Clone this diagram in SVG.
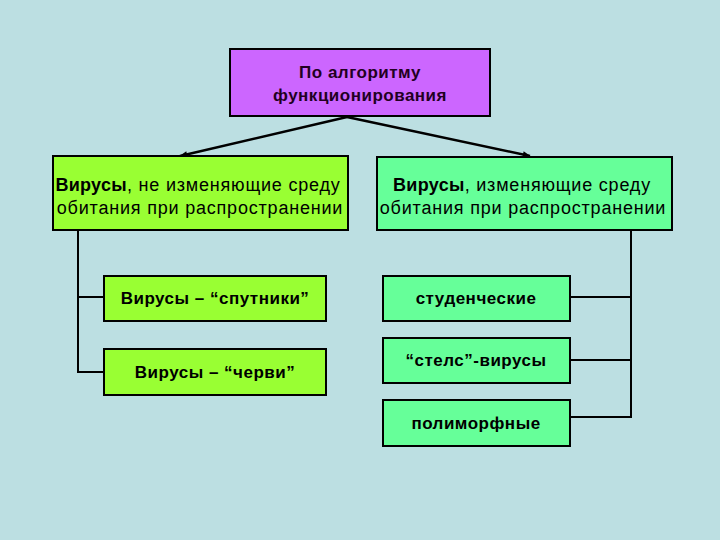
<svg xmlns="http://www.w3.org/2000/svg" width="720" height="540" viewBox="0 0 720 540">
<defs>
<style>
.box{stroke:#000;stroke-width:2}
.t{font-family:"Liberation Sans",Arial,sans-serif;font-size:17px;font-weight:bold;letter-spacing:0.5px;fill:#000;text-anchor:middle}
.r{font-family:"Liberation Sans",Arial,sans-serif;font-size:18px;letter-spacing:0.8px;fill:#000;text-anchor:middle}
.b{font-weight:bold;letter-spacing:0.3px}
.c{stroke:#000;stroke-width:2;fill:none}
.a{stroke:#000;stroke-width:2.5;fill:none}
</style>
<marker id="ah" viewBox="0 0 10 10" refX="9" refY="5" markerWidth="9" markerHeight="8" markerUnits="userSpaceOnUse" orient="auto"><path d="M0,1 L10,5 L0,9 z" fill="#000"/></marker>
</defs>
<rect width="720" height="540" fill="#bcdfe2"/>
<g id="connectors">
<line class="a" x1="347" y1="117" x2="180" y2="156" marker-end="url(#ah)"/>
<line class="a" x1="347" y1="117" x2="530" y2="156" marker-end="url(#ah)"/>
<polyline class="c" points="78,230 78,372 104,372"/>
<line class="c" x1="78" y1="297" x2="104" y2="297"/>
<polyline class="c" points="631,230 631,417 570,417"/>
<line class="c" x1="631" y1="297" x2="570" y2="297"/>
<line class="c" x1="631" y1="360" x2="570" y2="360"/>
</g>
<g id="root">
<rect class="box" x="230" y="49" width="260" height="67" fill="#cc66ff"/>
<text class="t" x="360" y="78" style="fill:#220022">По алгоритму</text>
<text class="t" x="360" y="101" style="fill:#220022">функционирования</text>
</g>
<g id="left">
<rect class="box" x="53" y="156" width="295" height="74" fill="#99ff33"/>
<text class="r" x="198" y="191"><tspan class="b">Вирусы</tspan>, не изменяющие среду</text>
<text class="r" x="200" y="214">обитания при распространении</text>
</g>
<g id="right">
<rect class="box" x="377" y="157" width="295" height="73" fill="#66ff99"/>
<text class="r" x="522" y="191"><tspan class="b">Вирусы</tspan>, изменяющие среду</text>
<text class="r" x="523" y="214">обитания при распространении</text>
</g>
<g id="sputniki">
<rect class="box" x="104" y="276" width="222" height="45" fill="#99ff33"/>
<text class="t" x="215" y="304">Вирусы – “спутники”</text>
</g>
<g id="chervi">
<rect class="box" x="104" y="349" width="222" height="46" fill="#99ff33"/>
<text class="t" x="215" y="378">Вирусы – “черви”</text>
</g>
<g id="student">
<rect class="box" x="383" y="276" width="187" height="45" fill="#66ff99"/>
<text class="t" x="476" y="304">студенческие</text>
</g>
<g id="stels">
<rect class="box" x="383" y="338" width="187" height="45" fill="#66ff99"/>
<text class="t" x="476" y="366">“стелс”-вирусы</text>
</g>
<g id="polimorf">
<rect class="box" x="383" y="400" width="187" height="46" fill="#66ff99"/>
<text class="t" x="476" y="429">полиморфные</text>
</g>
</svg>
